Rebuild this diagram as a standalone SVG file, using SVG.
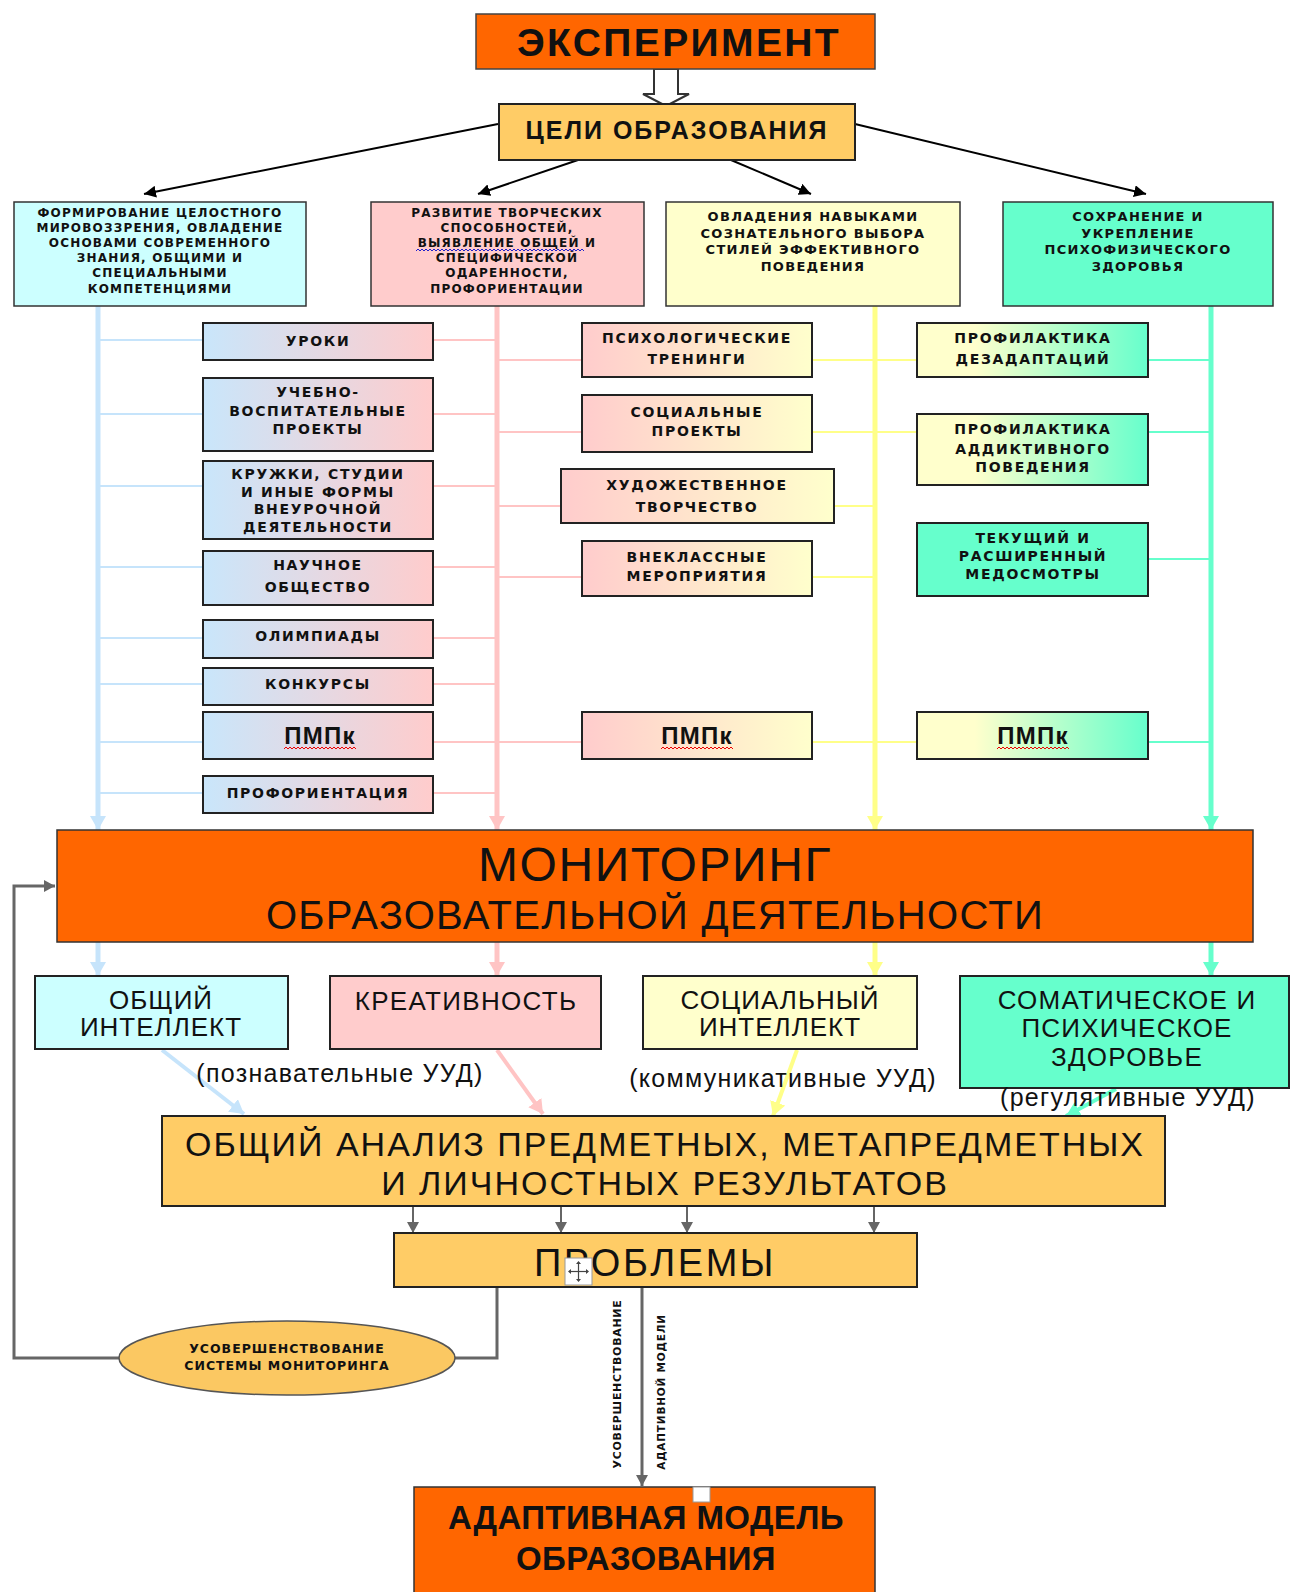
<svg xmlns="http://www.w3.org/2000/svg" width="1291" height="1592" viewBox="0 0 1291 1592">
<defs>
<linearGradient id="gBP" x1="0" x2="1" y1="0" y2="0"><stop offset="0" stop-color="#c9e6fb"/><stop offset="1" stop-color="#ffcccc"/></linearGradient>
<linearGradient id="gPY" x1="0" x2="1" y1="0" y2="0"><stop offset="0" stop-color="#ffcccc"/><stop offset="1" stop-color="#ffffcc"/></linearGradient>
<linearGradient id="gYG" x1="0" x2="1" y1="0" y2="0"><stop offset="0.25" stop-color="#ffffcc"/><stop offset="1" stop-color="#66ffcc"/></linearGradient>
<marker id="aK" markerUnits="userSpaceOnUse" markerWidth="14" markerHeight="12" refX="12" refY="6" orient="auto"><path d="M0,0 L12,6 L0,12 z" fill="#000"/></marker>
<marker id="aB" markerUnits="userSpaceOnUse" markerWidth="16" markerHeight="16" refX="14" refY="8" orient="auto"><path d="M0,0 L14,8 L0,16 z" fill="#c6e4fb"/></marker>
<marker id="aP" markerUnits="userSpaceOnUse" markerWidth="16" markerHeight="16" refX="14" refY="8" orient="auto"><path d="M0,0 L14,8 L0,16 z" fill="#ffc4c4"/></marker>
<marker id="aY" markerUnits="userSpaceOnUse" markerWidth="16" markerHeight="16" refX="14" refY="8" orient="auto"><path d="M0,0 L14,8 L0,16 z" fill="#ffff88"/></marker>
<marker id="aG" markerUnits="userSpaceOnUse" markerWidth="16" markerHeight="16" refX="14" refY="8" orient="auto"><path d="M0,0 L14,8 L0,16 z" fill="#66ffcc"/></marker>
<marker id="aGr" markerUnits="userSpaceOnUse" markerWidth="12" markerHeight="12" refX="11" refY="6" orient="auto"><path d="M0,0 L11,6 L0,12 z" fill="#666"/></marker>
<pattern id="wavR" width="4" height="4" patternUnits="userSpaceOnUse"><path d="M0,3 L2,1 L4,3" fill="none" stroke="#e00" stroke-width="1"/></pattern>
<pattern id="wavBl" width="4" height="4" patternUnits="userSpaceOnUse"><path d="M0,3 L2,1 L4,3" fill="none" stroke="#22c" stroke-width="1"/></pattern>
</defs>
<style>
.bx{stroke:#222;stroke-width:2}
.gl{stroke:#333;stroke-width:1.5}
.t{font-family:"DejaVu Sans",sans-serif;font-weight:bold;font-size:14px;text-anchor:middle;letter-spacing:1.7px;fill:#111}
.g{font-family:"DejaVu Sans",sans-serif;font-weight:bold;font-size:12px;text-anchor:middle;letter-spacing:1.2px;fill:#111}
.g3{font-family:"DejaVu Sans",sans-serif;font-weight:bold;font-size:13px;text-anchor:middle;letter-spacing:1.3px;fill:#111}
.r{font-family:"Liberation Sans",Arial,sans-serif;text-anchor:middle;fill:#111}
.b{font-family:"Liberation Sans",Arial,sans-serif;font-weight:bold;text-anchor:middle;fill:#111}
.lb{stroke:#c6e4fb;stroke-width:5;fill:none}
.lp{stroke:#ffc4c4;stroke-width:5;fill:none}
.ly{stroke:#ffff88;stroke-width:5;fill:none}
.lg{stroke:#66ffcc;stroke-width:5;fill:none}
.hb{stroke:#c6e4fb;stroke-width:2}
.hp{stroke:#ffc4c4;stroke-width:2}
.hy{stroke:#ffff88;stroke-width:2}
.hg{stroke:#66ffcc;stroke-width:2}
.gr{stroke:#666;stroke-width:3;fill:none}
</style>
<rect width="1291" height="1592" fill="#fff"/>

<g id="connectors">
<line x1="498" y1="124" x2="144" y2="194" stroke="#000" stroke-width="2" marker-end="url(#aK)"/>
<line x1="578" y1="160" x2="478" y2="194" stroke="#000" stroke-width="2" marker-end="url(#aK)"/>
<line x1="731" y1="160" x2="811" y2="194" stroke="#000" stroke-width="2" marker-end="url(#aK)"/>
<line x1="855" y1="124" x2="1146" y2="194" stroke="#000" stroke-width="2" marker-end="url(#aK)"/>
<line class="lb" x1="98" y1="306" x2="98" y2="830" marker-end="url(#aB)"/>
<line class="lp" x1="497" y1="306" x2="497" y2="830" marker-end="url(#aP)"/>
<line class="ly" x1="875" y1="306" x2="875" y2="830" marker-end="url(#aY)"/>
<line class="lg" x1="1211" y1="306" x2="1211" y2="830" marker-end="url(#aG)"/>
<g class="hb">
<line x1="100" y1="340" x2="203" y2="340"/><line x1="100" y1="414" x2="203" y2="414"/>
<line x1="100" y1="486" x2="203" y2="486"/><line x1="100" y1="567" x2="203" y2="567"/>
<line x1="100" y1="638" x2="203" y2="638"/><line x1="100" y1="684" x2="203" y2="684"/>
<line x1="100" y1="742" x2="203" y2="742"/><line x1="100" y1="793" x2="203" y2="793"/>
</g>
<g class="hp">
<line x1="433" y1="340" x2="495" y2="340"/><line x1="433" y1="414" x2="495" y2="414"/>
<line x1="433" y1="486" x2="495" y2="486"/><line x1="433" y1="567" x2="495" y2="567"/>
<line x1="433" y1="638" x2="495" y2="638"/><line x1="433" y1="684" x2="495" y2="684"/>
<line x1="433" y1="742" x2="582" y2="742"/><line x1="433" y1="793" x2="495" y2="793"/>
<line x1="499" y1="360" x2="582" y2="360"/><line x1="499" y1="432" x2="582" y2="432"/>
<line x1="499" y1="506" x2="561" y2="506"/><line x1="499" y1="577" x2="582" y2="577"/>
</g>
<g class="hy">
<line x1="812" y1="360" x2="917" y2="360"/><line x1="812" y1="432" x2="917" y2="432"/>
<line x1="834" y1="506" x2="873" y2="506"/><line x1="812" y1="577" x2="873" y2="577"/>
<line x1="812" y1="742" x2="917" y2="742"/>
</g>
<g class="hg">
<line x1="1148" y1="360" x2="1209" y2="360"/><line x1="1148" y1="432" x2="1209" y2="432"/>
<line x1="1148" y1="559" x2="1209" y2="559"/><line x1="1148" y1="742" x2="1209" y2="742"/>
</g>
<line class="lb" x1="98" y1="942" x2="98" y2="976" marker-end="url(#aB)"/>
<line class="lp" x1="497" y1="942" x2="497" y2="976" marker-end="url(#aP)"/>
<line class="ly" x1="875" y1="942" x2="875" y2="976" marker-end="url(#aY)"/>
<line class="lg" x1="1211" y1="942" x2="1211" y2="976" marker-end="url(#aG)"/>
<line x1="162" y1="1050" x2="244" y2="1114" stroke="#c6e4fb" stroke-width="4" marker-end="url(#aB)"/>
<line x1="497" y1="1050" x2="543" y2="1114" stroke="#ffc4c4" stroke-width="4" marker-end="url(#aP)"/>
<line x1="797" y1="1050" x2="773" y2="1116" stroke="#ffff88" stroke-width="4" marker-end="url(#aY)"/>
<line x1="1116" y1="1089" x2="1066" y2="1116" stroke="#66ffcc" stroke-width="4" marker-end="url(#aG)"/>
<g stroke="#666" stroke-width="2">
<line x1="413" y1="1206" x2="413" y2="1233" marker-end="url(#aGr)"/>
<line x1="561" y1="1206" x2="561" y2="1233" marker-end="url(#aGr)"/>
<line x1="687" y1="1206" x2="687" y2="1233" marker-end="url(#aGr)"/>
<line x1="874" y1="1206" x2="874" y2="1233" marker-end="url(#aGr)"/>
</g>
<polyline class="gr" points="120,1358 14,1358 14,886 55,886" marker-end="url(#aGr)"/>
<polyline class="gr" points="455,1358 497,1358 497,1287"/>
<line class="gr" x1="642" y1="1287" x2="642" y2="1486" marker-end="url(#aGr)"/>
<path d="M654,69 L678,69 L678,94 L689,94 L666,106 L643,94 L654,94 Z" fill="#fff" stroke="#333" stroke-width="2"/>
<text class="g" transform="translate(621,1384) rotate(-90)" style="font-size:11px;letter-spacing:0.7px">УСОВЕРШЕНСТВОВАНИЕ</text>
<text class="g" transform="translate(665,1392) rotate(-90)" style="font-size:10.5px;letter-spacing:0.8px">АДАПТИВНОЙ МОДЕЛИ</text>
</g>

<g id="n-experiment">
<rect x="476" y="14" width="399" height="55" fill="#ff6600" stroke="#444" stroke-width="1.5"/>
<text class="b" x="679" y="56" font-size="39" letter-spacing="2.4">ЭКСПЕРИМЕНТ</text>
</g>
<g id="n-goals">
<rect x="499" y="104" width="356" height="56" fill="#ffcc66" stroke="#222" stroke-width="2"/>
<text class="b" x="677" y="139" font-size="25" letter-spacing="2">ЦЕЛИ ОБРАЗОВАНИЯ</text>
</g>

<g id="n-goal1">
<rect class="gl" x="14" y="202" width="292" height="104" fill="#ccffff"/>
<text class="g"><tspan x="160" y="217">ФОРМИРОВАНИЕ ЦЕЛОСТНОГО</tspan><tspan x="160" y="232">МИРОВОЗЗРЕНИЯ, ОВЛАДЕНИЕ</tspan><tspan x="160" y="247">ОСНОВАМИ СОВРЕМЕННОГО</tspan><tspan x="160" y="262">ЗНАНИЯ, ОБЩИМИ И</tspan><tspan x="160" y="277">СПЕЦИАЛЬНЫМИ</tspan><tspan x="160" y="293">КОМПЕТЕНЦИЯМИ</tspan></text>
</g>
<g id="n-goal2">
<rect class="gl" x="371" y="202" width="273" height="104" fill="#ffcccc"/>
<text class="g"><tspan x="507" y="217">РАЗВИТИЕ ТВОРЧЕСКИХ</tspan><tspan x="507" y="232">СПОСОБНОСТЕЙ,</tspan><tspan x="507" y="247">ВЫЯВЛЕНИЕ ОБЩЕЙ И</tspan><tspan x="507" y="262">СПЕЦИФИЧЕСКОЙ</tspan><tspan x="507" y="277">ОДАРЕННОСТИ,</tspan><tspan x="507" y="293">ПРОФОРИЕНТАЦИИ</tspan></text>
<rect transform="translate(416,248)" width="168" height="4" fill="url(#wavBl)"/>
</g>
<g id="n-goal3">
<rect class="gl" x="666" y="202" width="294" height="104" fill="#ffffcc"/>
<text class="g3"><tspan x="813" y="221">ОВЛАДЕНИЯ НАВЫКАМИ</tspan><tspan x="813" y="238">СОЗНАТЕЛЬНОГО ВЫБОРА</tspan><tspan x="813" y="254">СТИЛЕЙ ЭФФЕКТИВНОГО</tspan><tspan x="813" y="271">ПОВЕДЕНИЯ</tspan></text>
</g>
<g id="n-goal4">
<rect class="gl" x="1003" y="202" width="270" height="104" fill="#66ffcc"/>
<text class="g3"><tspan x="1138" y="221">СОХРАНЕНИЕ И</tspan><tspan x="1138" y="238">УКРЕПЛЕНИЕ</tspan><tspan x="1138" y="254">ПСИХОФИЗИЧЕСКОГО</tspan><tspan x="1138" y="271">ЗДОРОВЬЯ</tspan></text>
</g>

<g id="n-uroki"><rect class="bx" x="203" y="323" width="230" height="37" fill="url(#gBP)"/><text class="t" x="318" y="346">УРОКИ</text></g>
<g id="n-uvp"><rect class="bx" x="203" y="378" width="230" height="73" fill="url(#gBP)"/><text class="t"><tspan x="318" y="397">УЧЕБНО-</tspan><tspan x="318" y="416">ВОСПИТАТЕЛЬНЫЕ</tspan><tspan x="318" y="434">ПРОЕКТЫ</tspan></text></g>
<g id="n-kruzhki"><rect class="bx" x="203" y="461" width="230" height="78" fill="url(#gBP)"/><text class="t"><tspan x="318" y="479">КРУЖКИ, СТУДИИ</tspan><tspan x="318" y="497">И ИНЫЕ ФОРМЫ</tspan><tspan x="318" y="514">ВНЕУРОЧНОЙ</tspan><tspan x="318" y="532">ДЕЯТЕЛЬНОСТИ</tspan></text></g>
<g id="n-nauch"><rect class="bx" x="203" y="551" width="230" height="54" fill="url(#gBP)"/><text class="t"><tspan x="318" y="570">НАУЧНОЕ</tspan><tspan x="318" y="592">ОБЩЕСТВО</tspan></text></g>
<g id="n-olimp"><rect class="bx" x="203" y="620" width="230" height="38" fill="url(#gBP)"/><text class="t" x="318" y="641">ОЛИМПИАДЫ</text></g>
<g id="n-konk"><rect class="bx" x="203" y="668" width="230" height="37" fill="url(#gBP)"/><text class="t" x="318" y="689">КОНКУРСЫ</text></g>
<g id="n-pmpk1"><rect class="bx" x="203" y="712" width="230" height="47" fill="url(#gBP)"/><text class="b" x="320" y="744" font-size="24" letter-spacing="1.2">ПМПк</text><rect transform="translate(284,746)" width="72" height="4" fill="url(#wavR)"/></g>
<g id="n-proforient"><rect class="bx" x="203" y="776" width="230" height="37" fill="url(#gBP)"/><text class="t" x="318" y="798">ПРОФОРИЕНТАЦИЯ</text></g>

<g id="n-psych"><rect class="bx" x="582" y="323" width="230" height="54" fill="url(#gPY)"/><text class="t"><tspan x="697" y="343">ПСИХОЛОГИЧЕСКИЕ</tspan><tspan x="697" y="364">ТРЕНИНГИ</tspan></text></g>
<g id="n-social"><rect class="bx" x="582" y="395" width="230" height="57" fill="url(#gPY)"/><text class="t"><tspan x="697" y="417">СОЦИАЛЬНЫЕ</tspan><tspan x="697" y="436">ПРОЕКТЫ</tspan></text></g>
<g id="n-art"><rect class="bx" x="561" y="469" width="273" height="54" fill="url(#gPY)"/><text class="t"><tspan x="697" y="490">ХУДОЖЕСТВЕННОЕ</tspan><tspan x="697" y="512">ТВОРЧЕСТВО</tspan></text></g>
<g id="n-extra"><rect class="bx" x="582" y="541" width="230" height="55" fill="url(#gPY)"/><text class="t"><tspan x="697" y="562">ВНЕКЛАССНЫЕ</tspan><tspan x="697" y="581">МЕРОПРИЯТИЯ</tspan></text></g>
<g id="n-pmpk2"><rect class="bx" x="582" y="712" width="230" height="47" fill="url(#gPY)"/><text class="b" x="697" y="744" font-size="24" letter-spacing="1.2">ПМПк</text><rect transform="translate(661,746)" width="72" height="4" fill="url(#wavR)"/></g>

<g id="n-dezad"><rect class="bx" x="917" y="323" width="231" height="54" fill="url(#gYG)"/><text class="t"><tspan x="1033" y="343">ПРОФИЛАКТИКА</tspan><tspan x="1033" y="364">ДЕЗАДАПТАЦИЙ</tspan></text></g>
<g id="n-addict"><rect class="bx" x="917" y="414" width="231" height="71" fill="url(#gYG)"/><text class="t"><tspan x="1033" y="434">ПРОФИЛАКТИКА</tspan><tspan x="1033" y="454">АДДИКТИВНОГО</tspan><tspan x="1033" y="472">ПОВЕДЕНИЯ</tspan></text></g>
<g id="n-medos"><rect class="bx" x="917" y="523" width="231" height="73" fill="#66ffcc"/><text class="t"><tspan x="1033" y="543">ТЕКУЩИЙ И</tspan><tspan x="1033" y="561">РАСШИРЕННЫЙ</tspan><tspan x="1033" y="579">МЕДОСМОТРЫ</tspan></text></g>
<g id="n-pmpk3"><rect class="bx" x="917" y="712" width="231" height="47" fill="url(#gYG)"/><text class="b" x="1033" y="744" font-size="24" letter-spacing="1.2">ПМПк</text><rect transform="translate(997,746)" width="72" height="4" fill="url(#wavR)"/></g>

<g id="n-monitoring">
<rect x="57" y="830" width="1196" height="112" fill="#ff6600" stroke="#333" stroke-width="1.5"/>
<text class="r" x="655" y="881" font-size="48" letter-spacing="1.6">МОНИТОРИНГ</text>
<text class="r" x="655" y="929" font-size="40" letter-spacing="1.3">ОБРАЗОВАТЕЛЬНОЙ ДЕЯТЕЛЬНОСТИ</text>
</g>

<g id="n-intellect">
<rect class="bx" x="35" y="976" width="253" height="73" fill="#ccffff"/>
<text class="r" font-size="26" letter-spacing="1"><tspan x="161" y="1009">ОБЩИЙ</tspan><tspan x="161" y="1036">ИНТЕЛЛЕКТ</tspan></text>
</g>
<g id="n-creat">
<rect class="bx" x="330" y="976" width="271" height="73" fill="#ffcccc"/>
<text class="r" x="466" y="1010" font-size="26" letter-spacing="1.3">КРЕАТИВНОСТЬ</text>
</g>
<g id="n-socint">
<rect class="bx" x="643" y="976" width="274" height="73" fill="#ffffcc"/>
<text class="r" font-size="26" letter-spacing="1"><tspan x="780" y="1009">СОЦИАЛЬНЫЙ</tspan><tspan x="780" y="1036">ИНТЕЛЛЕКТ</tspan></text>
</g>
<g id="n-health">
<rect class="bx" x="960" y="976" width="329" height="112" fill="#66ffcc"/>
<text class="r" font-size="26" letter-spacing="1.2"><tspan x="1127" y="1009">СОМАТИЧЕСКОЕ И</tspan><tspan x="1127" y="1037">ПСИХИЧЕСКОЕ</tspan><tspan x="1127" y="1066">ЗДОРОВЬЕ</tspan></text>
</g>
<g id="labels">
<text class="r" x="340" y="1082" font-size="25" letter-spacing="1.3">(познавательные УУД)</text>
<text class="r" x="783" y="1087" font-size="25" letter-spacing="1.3">(коммуникативные УУД)</text>
<text class="r" x="1128" y="1106" font-size="25" letter-spacing="1.3">(регулятивные УУД)</text>
</g>

<g id="n-analysis">
<rect class="bx" x="162" y="1116" width="1003" height="90" fill="#ffcc66"/>
<text class="r" font-size="34" letter-spacing="2"><tspan x="665" y="1156">ОБЩИЙ АНАЛИЗ ПРЕДМЕТНЫХ, МЕТАПРЕДМЕТНЫХ</tspan><tspan x="665" y="1195">И ЛИЧНОСТНЫХ РЕЗУЛЬТАТОВ</tspan></text>
</g>

<g id="n-problems">
<rect class="bx" x="394" y="1233" width="523" height="54" fill="#ffcc66"/>
<text class="r" x="655" y="1276" font-size="38" letter-spacing="2.5">ПРОБЛЕМЫ</text>
<rect x="565" y="1258" width="27" height="27" fill="#fff" stroke="#999" stroke-width="1"/>
<g stroke="#444" stroke-width="1.2" fill="#444">
<line x1="578.5" y1="1262" x2="578.5" y2="1281"/><line x1="569" y1="1271.5" x2="588" y2="1271.5"/>
<path d="M578.5,1261 l-2.5,3 h5 z M578.5,1282 l-2.5,-3 h5 z M568,1271.5 l3,-2.5 v5 z M589,1271.5 l-3,-2.5 v5 z" stroke="none"/>
</g>
</g>

<g id="n-improve">
<ellipse cx="287" cy="1358" rx="168" ry="37" fill="#fbc862" stroke="#555" stroke-width="1.5"/>
<text class="g" style="font-size:12.5px;letter-spacing:1px"><tspan x="287" y="1353">УСОВЕРШЕНСТВОВАНИЕ</tspan><tspan x="287" y="1370">СИСТЕМЫ МОНИТОРИНГА</tspan></text>
</g>

<g id="n-adaptive">
<rect x="414" y="1487" width="461" height="110" fill="#ff6600" stroke="#333" stroke-width="1.5"/>
<text class="b" font-size="33" letter-spacing="0.4"><tspan x="646" y="1529">АДАПТИВНАЯ МОДЕЛЬ</tspan><tspan x="646" y="1570">ОБРАЗОВАНИЯ</tspan></text>
<rect x="693" y="1487" width="17" height="15" fill="#fff" stroke="#999" stroke-width="1"/>
</g>
</svg>
